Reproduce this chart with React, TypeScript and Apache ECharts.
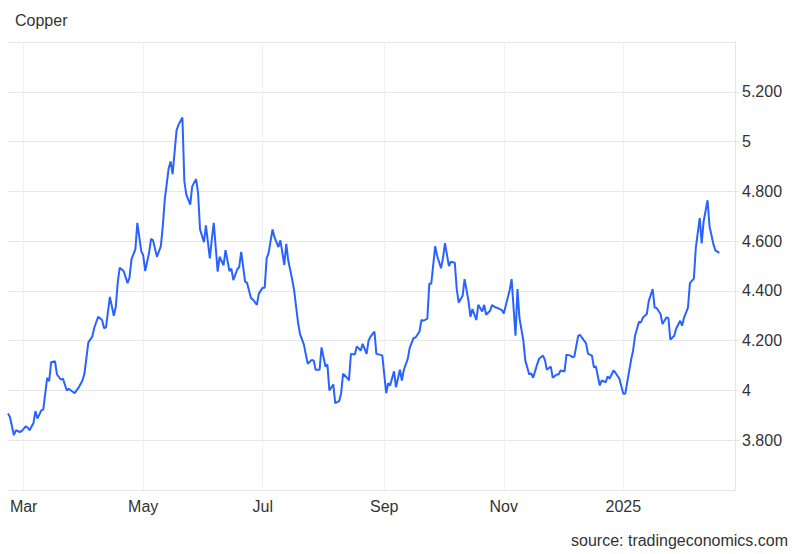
import React, { useEffect, useRef } from "react";
import * as echarts from "echarts";

// Days since 2024-03-01 for each observation
const dayOffsets = [
  -8, -7, -5, -4, -2, -1, 1, 2, 3, 5, 6, 7, 9, 10, 12, 13, 14, 16, 17, 19, 20, 22, 23, 26, 28, 30, 31, 33, 35, 36,
  38, 40, 41, 42, 44, 46, 47, 48, 49, 51, 53, 54, 55, 57, 58, 60, 61, 62, 64, 65, 66, 68, 70, 71, 72, 74, 75, 76, 78, 79,
  81, 82, 83, 85, 86, 88, 89, 90, 92, 93, 95, 96, 97, 99, 100, 102, 103, 105, 106, 107, 109, 110, 111, 113, 114, 116, 117, 119, 120, 122,
  123, 124, 125, 127, 128, 130, 131, 133, 134, 135, 137, 138, 140, 141, 143, 144, 145, 147, 148, 149, 151, 152, 154, 155, 156, 158, 159, 161, 162, 163,
  165, 166, 167, 169, 170, 172, 173, 175, 176, 177, 179, 180, 183, 185, 186, 187, 189, 190, 192, 193, 194, 196, 197, 199, 200, 202, 203, 204, 206, 207,
  208, 210, 211, 213, 214, 215, 217, 218, 220, 221, 222, 224, 225, 227, 228, 229, 231, 232, 234, 235, 236, 238, 239, 241, 242, 244, 245, 246, 248, 249,
  251, 252, 253, 255, 256, 258, 259, 260, 262, 263, 265, 266, 267, 269, 270, 272, 273, 274, 276, 277, 279, 280, 281, 283, 284, 285, 287, 288, 290, 291,
  292, 294, 295, 297, 298, 299, 301, 302, 304, 306, 307, 308, 310, 311, 312, 314, 315, 316, 318, 319, 321, 322, 323, 325, 326, 328, 329, 330, 332, 333,
  335, 336, 337, 339, 340, 342, 343, 345, 346, 347, 349, 350, 352, 353, 355,
];

// Copper price, USD/lb
const prices = [
  3.907, 3.893, 3.82, 3.84, 3.833, 3.837, 3.856, 3.851, 3.84, 3.869, 3.917, 3.887, 3.92, 3.923, 4.051, 4.037, 4.113, 4.117, 4.064, 4.043, 4.048, 4.0, 4.007, 3.989, 4.011, 4.04, 4.067, 4.193, 4.216, 4.251,
  4.296, 4.283, 4.251, 4.253, 4.376, 4.3, 4.336, 4.433, 4.493, 4.48, 4.431, 4.453, 4.527, 4.567, 4.673, 4.56, 4.543, 4.48, 4.553, 4.609, 4.603, 4.537, 4.58, 4.66, 4.767, 4.893, 4.92, 4.869, 5.044, 5.067,
  5.097, 4.84, 4.787, 4.747, 4.82, 4.849, 4.793, 4.647, 4.596, 4.663, 4.531, 4.607, 4.673, 4.477, 4.537, 4.503, 4.564, 4.48, 4.489, 4.443, 4.487, 4.496, 4.557, 4.437, 4.432, 4.371, 4.365, 4.344, 4.389, 4.413,
  4.413, 4.531, 4.553, 4.647, 4.616, 4.576, 4.603, 4.504, 4.589, 4.523, 4.447, 4.403, 4.273, 4.227, 4.184, 4.144, 4.107, 4.123, 4.12, 4.083, 4.083, 4.173, 4.096, 4.104, 4.0, 4.024, 3.949, 3.957, 3.989, 4.067,
  4.051, 4.04, 4.147, 4.144, 4.177, 4.16, 4.187, 4.147, 4.2, 4.216, 4.236, 4.147, 4.141, 3.989, 4.029, 4.02, 4.077, 4.013, 4.083, 4.04, 4.083, 4.127, 4.171, 4.211, 4.213, 4.237, 4.283, 4.28, 4.289, 4.429,
  4.429, 4.58, 4.54, 4.491, 4.533, 4.592, 4.5, 4.517, 4.513, 4.407, 4.353, 4.38, 4.447, 4.36, 4.296, 4.327, 4.283, 4.344, 4.317, 4.344, 4.304, 4.32, 4.343, 4.333, 4.331, 4.323, 4.309, 4.34, 4.403, 4.447,
  4.22, 4.407, 4.291, 4.2, 4.12, 4.064, 4.069, 4.051, 4.104, 4.127, 4.14, 4.123, 4.083, 4.096, 4.051, 4.064, 4.064, 4.08, 4.076, 4.144, 4.14, 4.133, 4.136, 4.22, 4.223, 4.211, 4.189, 4.147, 4.14, 4.093,
  4.096, 4.02, 4.04, 4.033, 4.057, 4.047, 4.08, 4.071, 4.047, 3.987, 3.987, 4.033, 4.124, 4.16, 4.22, 4.276, 4.273, 4.293, 4.307, 4.36, 4.407, 4.333, 4.331, 4.307, 4.267, 4.293, 4.291, 4.204, 4.22, 4.249,
  4.28, 4.26, 4.293, 4.333, 4.431, 4.449, 4.573, 4.693, 4.591, 4.68, 4.764, 4.66, 4.587, 4.563, 4.553,
];

// Axis label months: [year, monthIndex]
const labelMonths: [number, number][] = [
  [2024, 2], [2024, 4], [2024, 6], [2024, 8], [2024, 10], [2025, 0],
];
const monthNames = ["Jan", "Feb", "Mar", "Apr", "May", "Jun", "Jul", "Aug", "Sep", "Oct", "Nov", "Dec"];

const axisStartOffset = -8;
const axisEndOffset = 363;

const yMin = 3.6;
const yMax = 5.4;
const yStep = 0.2;

const dayToTime = (d: number) => new Date(2024, 2, 1 + d).getTime();

export default function App() {
  const ref = useRef<HTMLDivElement>(null);

  useEffect(() => {
    if (!ref.current) return;
    const chart = echarts.init(ref.current, null, { renderer: "svg" });
    const data = dayOffsets.map((d, i) => [dayToTime(d), prices[i]]);
    const ticks = labelMonths.map(([y, m]) => new Date(y, m, 1).getTime());
    const font = "'Liberation Sans', Arial, sans-serif";

    chart.setOption({
      animation: false,
      textStyle: { fontFamily: font },
      title: [
        {
          text: "Copper",
          left: 15,
          top: 12,
          padding: 0,
          textStyle: { fontSize: 16, fontWeight: "normal", color: "#333333", fontFamily: font },
        },
        {
          text: "source: tradingeconomics.com",
          right: 12,
          top: 532,
          padding: 0,
          textStyle: { fontSize: 16, fontWeight: "normal", color: "#333333", fontFamily: font },
        },
      ],
      grid: {
        left: 8,
        right: 65,
        top: 42,
        bottom: 64,
        containLabel: false,
        outerBoundsMode: "none",
      },
      xAxis: {
        type: "value",
        min: dayToTime(axisStartOffset),
        max: dayToTime(axisEndOffset),
        axisLine: { show: true, lineStyle: { color: "#e6e6e6", width: 1 } },
        axisTick: { show: false, customValues: ticks },
        axisLabel: {
          customValues: ticks,
          color: "#333333",
          fontSize: 16,
          margin: 8,
          fontFamily: font,
          formatter: (v: number) => {
            const dt = new Date(v);
            return dt.getMonth() === 0 ? String(dt.getFullYear()) : monthNames[dt.getMonth()];
          },
        },
        splitLine: { show: true, lineStyle: { color: "#edf2f3", width: 1 } },
      },
      yAxis: {
        type: "value",
        position: "right",
        min: yMin,
        max: yMax,
        interval: yStep,
        axisLine: { show: true, lineStyle: { color: "#e6e6e6", width: 1 } },
        axisTick: { show: true, length: 4, lineStyle: { color: "#e6e6e6" } },
        axisLabel: {
          showMinLabel: false,
          showMaxLabel: false,
          color: "#333333",
          fontSize: 16,
          margin: 7,
          fontFamily: font,
          formatter: (v: number) =>
            Math.abs(v - Math.round(v)) < 1e-9 ? String(Math.round(v)) : v.toFixed(3),
        },
        splitLine: { show: true, lineStyle: { color: "#e6e6e6", width: 1 } },
      },
      series: [
        {
          type: "line",
          data,
          showSymbol: false,
          symbol: "none",
          lineStyle: { color: "#2962ff", width: 2 },
          itemStyle: { color: "#2962ff" },
        },
      ],
    });

    return () => chart.dispose();
  }, []);

  return <div ref={ref} style={{ width: 800, height: 554, position: "absolute", left: 0, top: 0 }} />;
}
